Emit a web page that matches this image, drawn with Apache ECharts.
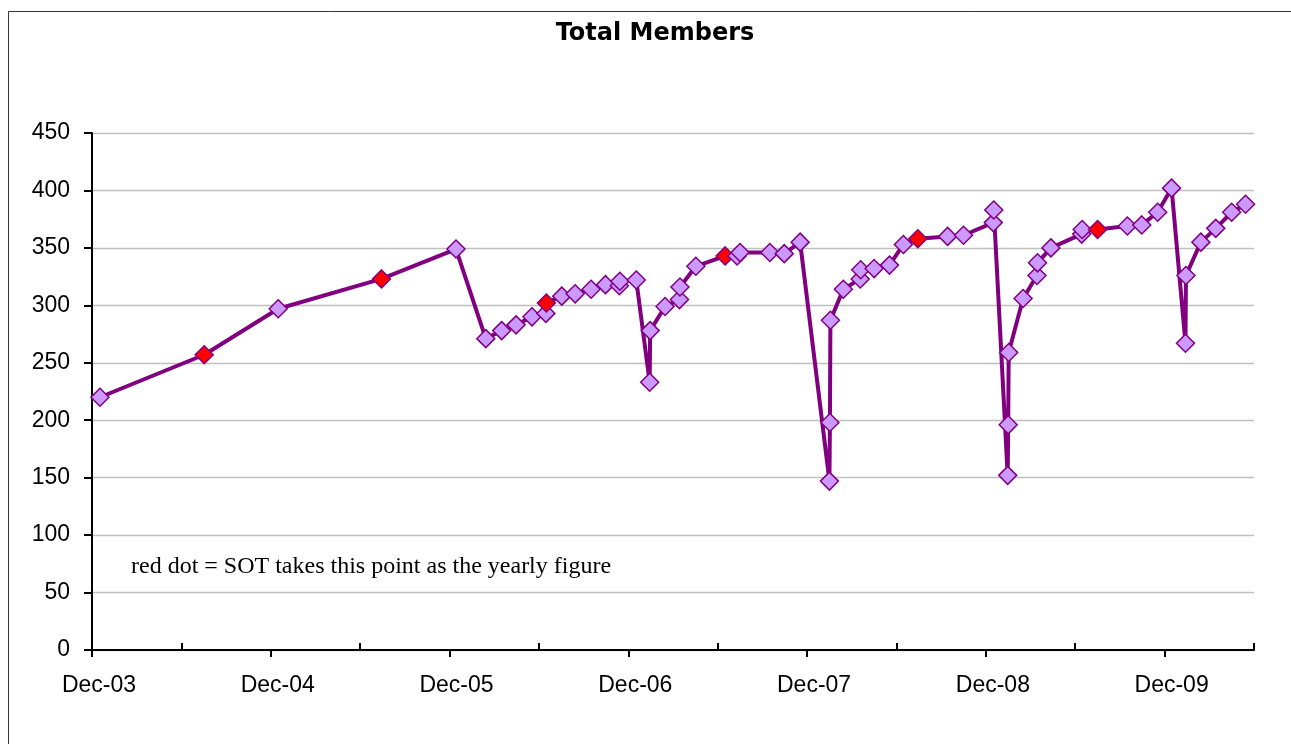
<!DOCTYPE html>
<html>
<head>
<meta charset="utf-8">
<script src="https://cdn.jsdelivr.net/npm/echarts@6/dist/echarts.min.js"></script>
<style>
html,body{margin:0;padding:0;background:#fff;}
#chart{width:1291px;height:744px;}
</style>
</head>
<body>
<div id="chart"></div>
<script>
// Dates of each observation
var dates = [
  '2003-12-17','2004-07-17','2004-12-16','2005-07-14','2005-12-14',
  '2006-02-14','2006-03-16','2006-04-15','2006-05-17','2006-06-15','2006-06-16',
  '2006-07-17','2006-08-14','2006-09-16','2006-10-15','2006-11-13','2006-11-14',
  '2006-12-17','2007-01-14','2007-01-15','2007-02-15','2007-03-14','2007-03-15',
  '2007-04-17','2007-06-16','2007-07-10','2007-07-16','2007-09-16','2007-10-15',
  '2007-11-17','2008-01-16','2008-01-17','2008-01-18','2008-02-14','2008-03-18',
  '2008-03-19','2008-04-16','2008-05-17','2008-06-15','2008-07-14','2008-09-14',
  '2008-10-16','2008-12-16','2008-12-17','2009-01-15','2009-01-16','2009-01-17',
  '2009-02-16','2009-03-14','2009-03-15','2009-04-12','2009-06-14','2009-06-15',
  '2009-07-16','2009-09-16','2009-10-15','2009-11-17','2009-12-15','2010-01-13',
  '2010-01-14','2010-02-14','2010-03-14','2010-04-16','2010-05-14'
];
// Total members at each date
var members = [
  220,257,297,323,349,
  271,278,283,290,293,302,
  308,310,314,318,317,321,
  322,233,278,299,305,316,
  334,343,343,346,346,345,
  355,147,198,287,314,323,
  331,332,335,353,358,360,
  361,372,383,152,196,259,
  306,326,337,350,362,366,
  366,369,370,381,402,267,
  326,355,367,381,388
];
// Points SOT takes as the yearly figure (red dots)
var yearlyDates = ['2004-07-17','2005-07-14','2006-06-16','2007-06-16','2008-07-14','2009-07-16'];
// Axis tick labels
var yearLabels = ['Dec-03','Dec-04','Dec-05','Dec-06','Dec-07','Dec-08','Dec-09'];
var yTicks = [0,50,100,150,200,250,300,350,400,450];

var title = 'Total Members';
var note = 'red dot = SOT takes this point as the yearly figure';

function monthsFromStart(s){
  var p = s.split('-');
  var y = +p[0], m = +p[1], d = +p[2];
  return (y - 2003) * 12 + (m - 12) + (d - 1) / 30;
}

var seriesData = dates.map(function(d, i){
  var item = { value: [monthsFromStart(d), members[i]] };
  if (yearlyDates.indexOf(d) >= 0) {
    item.itemStyle = { color: '#FF0000', borderColor: '#800080' };
  }
  return item;
});

var majorTicks = yearLabels.map(function(_, i){ return i * 12; });
var minorTicks = yearLabels.map(function(_, i){ return i * 12 + 6; });

var chart = echarts.init(document.getElementById('chart'), null, {renderer: 'canvas'});
chart.setOption({
  backgroundColor: '#ffffff',
  animation: false,
  grid: { left: 92, right: 37, top: 133, bottom: 94, containLabel: false },
  graphic: [
    { type: 'rect', silent: true, z: -1,
      shape: { x: 8.5, y: 11.5, width: 1300, height: 800 },
      style: { fill: 'none', stroke: '#333333', lineWidth: 1 } },
    { type: 'text', x: 655, y: 34,
      style: { text: title, font: 'bold 24px "DejaVu Sans"', fill: '#000',
               textAlign: 'center', textVerticalAlign: 'middle' } },
    { type: 'text', left: 131, top: 555,
      style: { text: note, font: '24px "Liberation Serif"', fill: '#000' } }
  ],
  xAxis: [
    {
      type: 'value', min: 0, max: 78, interval: 6,
      axisLine: { show: true, onZero: false, lineStyle: { color: '#000', width: 2 } },
      axisTick: { show: true, inside: false, length: 7, customValues: majorTicks,
                  lineStyle: { color: '#000', width: 2 } },
      axisLabel: { show: true, customValues: majorTicks, margin: 24,
                   padding: [0, 0, 0, 14],
                   fontFamily: '"Liberation Sans", Arial', fontSize: 23, color: '#000',
                   formatter: function(v){ var i = Math.round(v / 12); return yearLabels[i] || ''; } },
      splitLine: { show: false }
    },
    {
      type: 'value', min: 0, max: 78, interval: 6, position: 'bottom',
      axisLine: { show: false, onZero: false },
      axisTick: { show: true, inside: true, length: 7, customValues: minorTicks.concat([78]),
                  lineStyle: { color: '#000', width: 2 } },
      axisLabel: { show: false },
      splitLine: { show: false }
    }
  ],
  yAxis: {
    type: 'value', min: 0, max: 450, interval: 50,
    axisLine: { show: true, lineStyle: { color: '#000', width: 2 } },
    axisTick: { show: true, inside: false, length: 8, lineStyle: { color: '#000', width: 2 } },
    axisLabel: { margin: 22, fontFamily: '"Liberation Sans", Arial', fontSize: 23, color: '#000',
                 formatter: function(v){ return yTicks.indexOf(v) >= 0 ? String(v) : ''; } },
    splitLine: { show: true, lineStyle: { color: '#BFBFBF', width: 1.3 } }
  },
  series: [{
    type: 'line',
    xAxisIndex: 0,
    data: seriesData,
    symbol: 'diamond',
    symbolSize: 18,
    lineStyle: { color: '#800080', width: 4 },
    itemStyle: { color: '#CC99FF', borderColor: '#800080', borderWidth: 1.5 },
    z: 3
  }]
});
</script>
</body>
</html>
